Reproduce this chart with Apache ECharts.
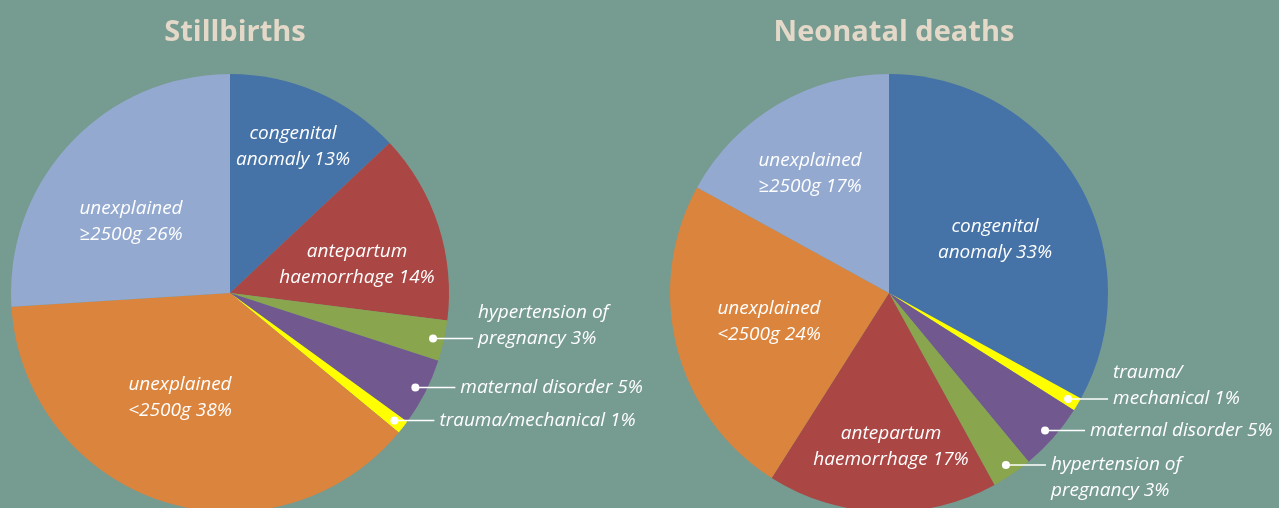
<!DOCTYPE html>
<html lang="en">
<head>
  <meta charset='utf-8'>
  <title>Stillbirths and neonatal deaths by cause</title>
  <style>
    html, body { margin: 0; padding: 0; background: #769b91; }
  </style>
</head>
<body>
  <div id="myCharts" style="width: 1279px;height:508px;"></div>
  <script src="https://cdn.jsdelivr.net/npm/echarts@6.0.0/dist/echarts.min.js"></script>
  <script type="text/javascript">
    // data: causes and shares (%)
    var stillNames = ['congenital\nanomaly', 'antepartum\nhaemorrhage', 'hypertension of\npregnancy', 'maternal disorder', 'trauma/mechanical', 'unexplained\n<2500g', 'unexplained\n≥2500g'];
    var stillCauses = ['congenital', 'antepartum', 'hypertension', 'maternal', 'trauma', 'under2500', 'over2500'];
    var stillValues = [13, 14, 3, 5, 1, 38, 26];

    var neoNames = ['congenital\nanomaly', 'trauma/\nmechanical', 'maternal disorder', 'hypertension of\npregnancy', 'antepartum\nhaemorrhage', 'unexplained\n<2500g', 'unexplained\n≥2500g'];
    var neoCauses = ['congenital', 'trauma', 'maternal', 'hypertension', 'antepartum', 'under2500', 'over2500'];
    var neoValues = [33, 1, 5, 3, 17, 24, 17];

    // colours per cause
    var causeColors = {
      congenital: '#4572a7',
      antepartum: '#aa4643',
      hypertension: '#89a54e',
      maternal: '#71588f',
      trauma: '#ffff00',
      under2500: '#db843d',
      over2500: '#93a9cf'
    };

    // pie geometry (pixels)
    var R = 219;
    var centers = [[230, 293], [889, 293]];

    // label placement: inside offsets from centre, or outside with line row
    var stillLabels = [
      { inside: [63, -146] },
      { inside: [127, -28] },
      { row: 'bottom' },
      { row: 'single' },
      { row: 'single' },
      { inside: [-50, 105] },
      { inside: [-99, -71] }
    ];
    var neoLabels = [
      { inside: [106, -53] },
      { row: 'bottom' },
      { row: 'single' },
      { row: 'top' },
      { inside: [2, 154] },
      { inside: [-120, 29] },
      { inside: [-79, -119] }
    ];

    var LINE_H = 26;
    var LEAD = 40;

    function midAngle(values, i) {
      var total = 0, before = 0;
      for (var k = 0; k < values.length; k++) {
        total += values[k];
        if (k < i) before += values[k];
      }
      return (before + values[i] / 2) / total * Math.PI * 2;
    }

    function dotPos(s, values, i) {
      var a = midAngle(values, i);
      var c = centers[s];
      return [c[0] + 0.95 * R * Math.sin(a), c[1] - 0.95 * R * Math.cos(a)];
    }

    function buildData(names, causes, values, labels) {
      return values.map(function (v, i) {
        var outside = !labels[i].inside;
        return {
          name: names[i],
          value: v,
          itemStyle: { color: causeColors[causes[i]] },
          label: { position: outside ? 'outside' : 'inside' },
          labelLine: { show: false }
        };
      });
    }

    var allValues = [stillValues, neoValues];
    var allLabels = [stillLabels, neoLabels];

    function makeLayout(s) {
      return function (params) {
        var i = params.dataIndex;
        var spec = allLabels[s][i];
        var c = centers[s];
        if (spec.inside) {
          return {
            x: c[0] + spec.inside[0],
            y: c[1] + spec.inside[1],
            align: 'center',
            verticalAlign: 'middle'
          };
        }
        var d = dotPos(s, allValues[s], i);
        var shift = spec.row === 'bottom' ? -LINE_H / 2 : (spec.row === 'top' ? LINE_H / 2 : 0);
        return {
          x: d[0] + LEAD + 5,
          y: d[1] + shift,
          align: 'left',
          verticalAlign: 'middle'
        };
      };
    }

    function makeSeries(s, names, causes, values, labels) {
      return {
        type: 'pie',
        center: centers[s],
        radius: R,
        startAngle: 90,
        clockwise: true,
        avoidLabelOverlap: false,
        silent: true,
        animation: false,
        label: {
          color: '#ffffff',
          fontFamily: 'Open Sans',
          fontStyle: 'italic',
          fontSize: 19,
          lineHeight: LINE_H,
          formatter: function (p) { return p.name + ' ' + p.value + '%'; }
        },
        labelLayout: makeLayout(s),
        data: buildData(names, causes, values, labels)
      };
    }

    // white leader lines with a dot at the slice end
    var leaders = [];
    [0, 1].forEach(function (s) {
      allLabels[s].forEach(function (spec, i) {
        if (spec.inside) return;
        var d = dotPos(s, allValues[s], i);
        leaders.push({
          type: 'line',
          shape: { x1: d[0], y1: d[1], x2: d[0] + LEAD, y2: d[1] },
          style: { stroke: '#ffffff', lineWidth: 1.5 },
          z: 100
        });
        leaders.push({
          type: 'circle',
          shape: { cx: d[0], cy: d[1], r: 4 },
          style: { fill: '#ffffff' },
          z: 101
        });
      });
    });

    var myChart = echarts.init(document.getElementById('myCharts'));
    var chartOption = {
      backgroundColor: '#769b91',
      title: [
        {
          text: 'Stillbirths',
          left: 230,
          top: 13,
          textAlign: 'center',
          textStyle: { color: '#e4d8c8', fontFamily: 'Open Sans', fontWeight: 'bold', fontSize: 29 }
        },
        {
          text: 'Neonatal deaths',
          left: 889,
          top: 13,
          textAlign: 'center',
          textStyle: { color: '#e4d8c8', fontFamily: 'Open Sans', fontWeight: 'bold', fontSize: 29 }
        }
      ],
      graphic: leaders,
      series: [
        makeSeries(0, stillNames, stillCauses, stillValues, stillLabels),
        makeSeries(1, neoNames, neoCauses, neoValues, neoLabels)
      ]
    };
    myChart.setOption(chartOption);
  </script>
</body>
</html>
